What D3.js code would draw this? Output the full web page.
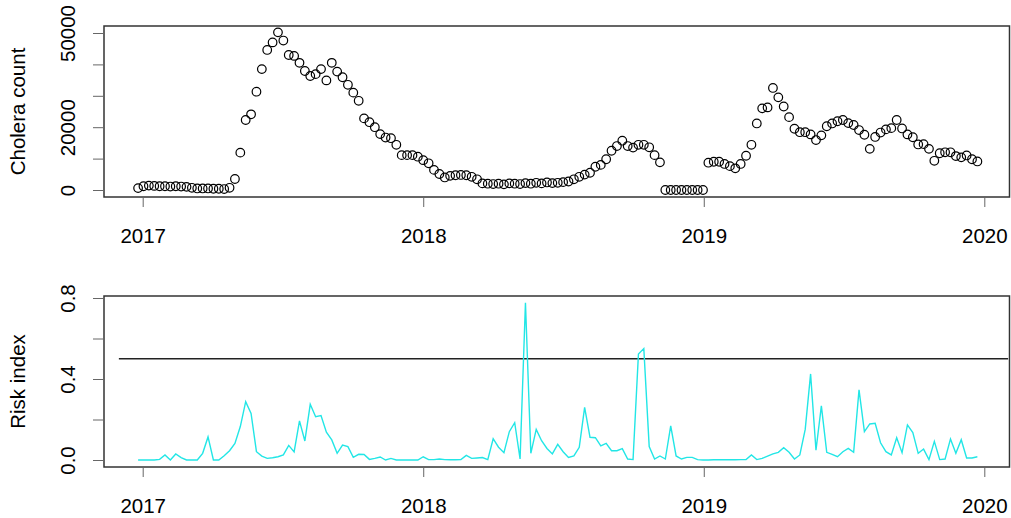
<!DOCTYPE html>
<html>
<head>
<meta charset="utf-8">
<script src="https://cdn.jsdelivr.net/npm/d3@7"></script>
<style>
  body { margin: 0; background: #fff; }
  text { font-family: "Liberation Sans", Arial, sans-serif; fill: #000; }
</style>
</head>
<body>
<svg id="drawing_region"></svg>
<script>
// weekly cholera counts, first week starting 2016-12-26
var startWeek = "2016-12-26";
var choleraCount = [
  600, 1200, 1400, 1300, 1200, 1200, 1100, 1200, 1100, 1000,
  700, 500, 500, 500, 400, 400, 300, 700, 3500, 11900,
  22300, 24100, 31300, 38500, 44600, 47000, 50200, 47600, 43000, 42700,
  40500, 37900, 36300, 36900, 38500, 34900, 40500, 37700, 35900, 33500,
  31000, 28400, 22800, 21600, 20000, 17800, 16700, 16500, 14400, 11100,
  11100, 11100, 10600, 9500, 8500, 6400, 5100, 4000, 4500, 4700,
  4800, 4700, 4200, 3400, 2100, 2000, 1900, 2000, 1800, 2100,
  2000, 1900, 2200, 2000, 2300, 2100, 2400, 2200, 2300, 2500,
  2700, 3400, 4200, 4900, 5500, 7400, 8000, 9800, 12500, 14000,
  15700, 14000, 13500, 14400, 14400, 13600, 11100, 8800, 0, 0,
  0, 0, 0, 0, 0, 0, 8700, 9000, 9000, 8300,
  7600, 6900, 8300, 10900, 14400, 21200, 26000, 26300, 32500, 29500,
  26600, 23200, 19500, 18400, 18400, 17700, 15900, 17400, 20300, 21200,
  21900, 22300, 21300, 20700, 19100, 17600, 13100, 16900, 18300, 19300,
  19700, 22300, 19600, 17700, 16800, 14500, 14600, 13100, 9300, 11700,
  12000, 12000, 10800, 10400, 11000, 9800, 9100
];
var riskIndex = [
  0.0, 0.0, 0.0, 0.0, 0.003, 0.025, 0.0, 0.03, 0.012, 0.0,
  0.0, 0.0, 0.033, 0.114, 0.0, 0.0, 0.021, 0.046, 0.082, 0.165,
  0.288, 0.23, 0.041, 0.019, 0.008, 0.011, 0.016, 0.025, 0.072, 0.04,
  0.193, 0.094, 0.275, 0.214, 0.219, 0.137, 0.099, 0.033, 0.074, 0.066,
  0.013, 0.028, 0.027, 0.003, 0.008, 0.015, 0.0, 0.008, 0.0, 0.0,
  0.0, 0.0, 0.0, 0.016, 0.002, 0.002, 0.005, 0.002, 0.001, 0.001,
  0.002, 0.023, 0.008, 0.01, 0.012, 0.002, 0.105, 0.063, 0.036, 0.14,
  0.184, 0.005, 0.777, 0.033, 0.151, 0.095, 0.057, 0.03, 0.077, 0.041,
  0.013, 0.02, 0.063, 0.26, 0.112, 0.11, 0.07, 0.082, 0.046, 0.046,
  0.056, 0.005, 0.002, 0.523, 0.55, 0.066, 0.005, 0.02, 0.005, 0.168,
  0.02, 0.005, 0.013, 0.013, 0.002, 0.0, 0.0, 0.001, 0.001, 0.001,
  0.001, 0.001, 0.002, 0.002, 0.025, 0.002, 0.008, 0.019, 0.03, 0.038,
  0.061, 0.038, 0.005, 0.025, 0.151, 0.425, 0.048, 0.267, 0.038, 0.028,
  0.016, 0.041, 0.057, 0.038, 0.346, 0.14, 0.178, 0.181, 0.085, 0.041,
  0.025, 0.11, 0.036, 0.173, 0.135, 0.033, 0.054, 0.002, 0.092, 0.002,
  0.005, 0.104, 0.033, 0.1, 0.01, 0.01, 0.016
];
var yearTicks = ["2017-01-01", "2018-01-01", "2019-01-01", "2020-01-01"];
var countTicks = [0, 10000, 20000, 30000, 40000, 50000];
var countLabels = [0, 20000, 50000];
var riskTicks = [0, 0.2, 0.4, 0.6, 0.8];
var riskLabels = [0, 0.4, 0.8];
var threshold = 0.5;
var thresholdSpan = ["2016-12-01", "2020-02-01"];

var W = 1011, H = 518;
var parse = d3.utcParse("%Y-%m-%d");
var dates = choleraCount.map((d, i) => d3.utcDay.offset(parse(startWeek), 7 * i));

var svg = d3.select('#drawing_region').attr('width', W).attr('height', H);

var x = d3.scaleUtc()
    .domain([parse(yearTicks[0]), parse(yearTicks[3])])
    .range([142.7, 984.3]);

var boxL = 104, boxR = 1009.5;
var fs = 20.5;

function panel(top, bottom, y, yTicks, yLabels, fmt, title) {
    var g = svg.append('g');

    g.append('rect')
        .attr('x', boxL).attr('y', top)
        .attr('width', boxR - boxL).attr('height', bottom - top)
        .attr('fill', 'none').attr('stroke', '#333').attr('stroke-width', 1.5);

    // x axis
    var xa = g.append('g')
        .attr('transform', `translate(0,${bottom})`)
        .call(d3.axisBottom(x)
            .tickValues(yearTicks.map(parse))
            .tickFormat(d3.utcFormat('%Y'))
            .tickSize(10).tickPadding(21.4));
    xa.select('.domain').remove();
    xa.selectAll('line').attr('stroke', '#666').attr('stroke-width', 1);
    xa.selectAll('text').style('font-size', fs + 'px').attr('fill', '#000')
        .style('font-family', '"Liberation Sans", Arial, sans-serif');

    // y axis
    var ya = g.append('g')
        .attr('transform', `translate(${boxL},0)`)
        .call(d3.axisLeft(y)
            .tickValues(yTicks)
            .tickFormat(d => yLabels.indexOf(d) >= 0 ? fmt(d) : '')
            .tickSize(11));
    ya.select('.domain').remove();
    ya.selectAll('line').attr('stroke', '#666').attr('stroke-width', 1);
    ya.selectAll('text')
        .attr('x', null).attr('dy', null)
        .attr('text-anchor', 'middle')
        .attr('transform', 'translate(-29,0) rotate(-90)')
        .attr('fill', '#000')
        .style('font-size', fs + 'px')
        .style('font-family', '"Liberation Sans", Arial, sans-serif');

    g.append('text')
        .attr('transform', `translate(25,${(top + bottom) / 2}) rotate(-90)`)
        .attr('text-anchor', 'middle')
        .style('font-size', fs + 'px')
        .text(title);
    return g;
}

// top panel: cholera counts
var y1 = d3.scaleLinear().domain([0, 50000]).range([190, 33]);
var g1 = panel(26, 197, y1, countTicks, countLabels, d3.format('d'), 'Cholera count');

g1.selectAll('circle.pt')
    .data(choleraCount)
    .enter()
    .append('circle')
    .attr('class', 'pt')
    .attr('cx', (d, i) => x(dates[i]))
    .attr('cy', d => y1(d))
    .attr('r', 4.3)
    .attr('fill', 'none')
    .attr('stroke', '#000')
    .attr('stroke-width', 1.2);

// bottom panel: risk index
var y2 = d3.scaleLinear().domain([0, 0.8]).range([460, 298]);
var g2 = panel(296, 467, y2, riskTicks, riskLabels, d3.format('.1f'), 'Risk index');

g2.append('line')
    .attr('x1', x(parse(thresholdSpan[0])))
    .attr('x2', x(parse(thresholdSpan[1])))
    .attr('y1', y2(threshold))
    .attr('y2', y2(threshold))
    .attr('stroke', '#222')
    .attr('stroke-width', 1.6);

var line = d3.line()
    .x((d, i) => x(dates[i]))
    .y(d => y2(d));

g2.append('path')
    .datum(riskIndex)
    .attr('d', line)
    .attr('fill', 'none')
    .attr('stroke', '#22e6e6')
    .attr('stroke-width', 1.4);
</script>
</body>
</html>
